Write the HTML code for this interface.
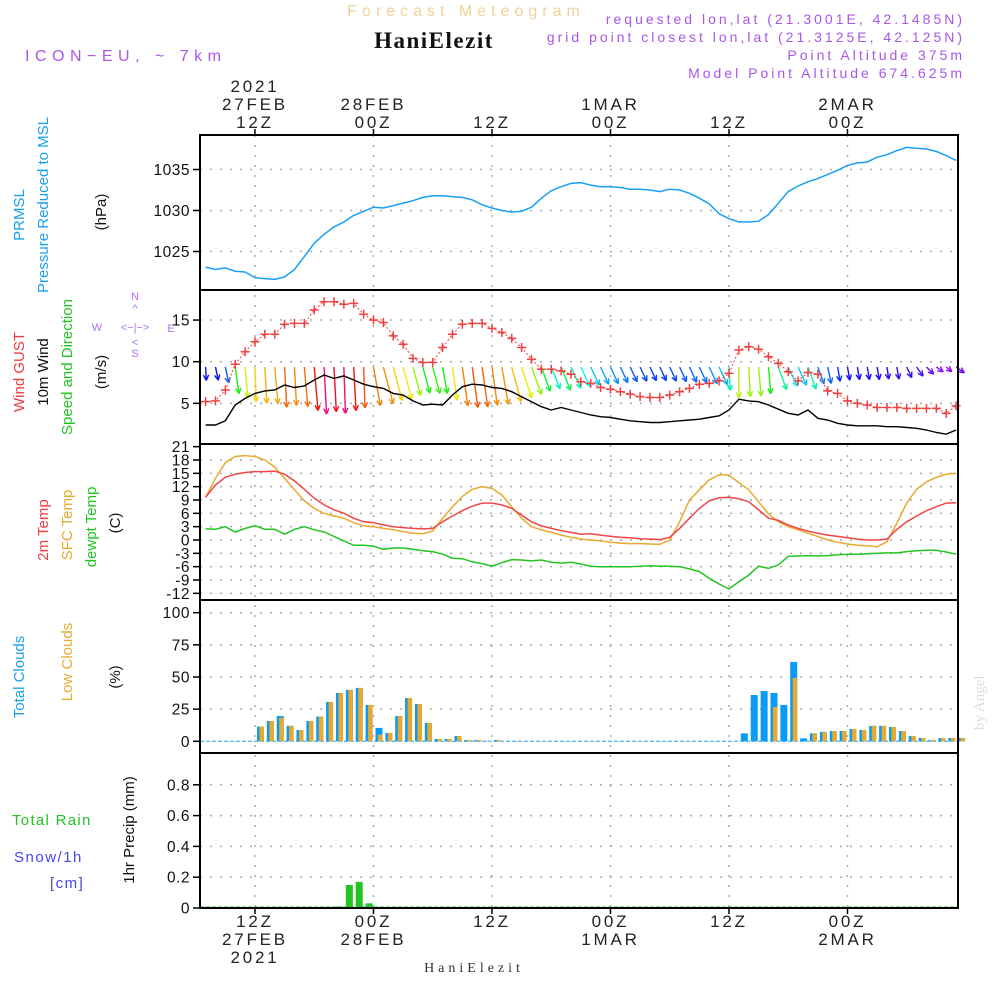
<!DOCTYPE html>
<html><head><meta charset="utf-8"><style>
body{margin:0;background:#fff;width:1000px;height:1000px;overflow:hidden}
svg{display:block}
text{font-family:"Liberation Sans",sans-serif}
</style></head><body>
<svg id="chart" width="1000" height="1000" viewBox="0 0 1000 1000" xmlns="http://www.w3.org/2000/svg">
<text x="466" y="16" text-anchor="middle" font-size="16" fill="#f0d29a" letter-spacing="5">Forecast Meteogram</text>
<text x="434" y="48" text-anchor="middle" font-size="23" font-weight="bold" fill="#111" style="font-family:'Liberation Serif',serif" letter-spacing="1.5">HaniElezit</text>
<g font-size="14" fill="#a855e8" text-anchor="end" letter-spacing="3">
<text x="965" y="24">requested lon,lat (21.3001E, 42.1485N)</text>
<text x="965" y="42">grid point closest lon,lat (21.3125E, 42.125N)</text>
<text x="965" y="60">Point Altitude 375m</text>
<text x="965" y="78">Model Point Altitude 674.625m</text>
</g>
<text x="25" y="61" font-size="16" fill="#a855e8" letter-spacing="5.5">ICON−EU, ~ 7km</text>
<text transform="translate(984,730) rotate(-90)" font-size="15" fill="#ddd" style="font-family:'Liberation Serif',serif">by Angel</text>
<text x="474" y="972" text-anchor="middle" font-size="14" fill="#333" style="font-family:'Liberation Serif',serif" letter-spacing="4">HaniElezit</text>
<g font-size="15">
<text transform="translate(24,215) rotate(-90)" text-anchor="middle" fill="#1a9ff0">PRMSL</text>
<text transform="translate(48,205) rotate(-90)" text-anchor="middle" fill="#1a9ff0">Pressure Reduced to MSL</text>
<text transform="translate(106,212) rotate(-90)" text-anchor="middle" fill="#111">(hPa)</text>
<text transform="translate(24,372) rotate(-90)" text-anchor="middle" fill="#f03c3c">Wind GUST</text>
<text transform="translate(48,372) rotate(-90)" text-anchor="middle" fill="#111">10m Wind</text>
<text transform="translate(72,367) rotate(-90)" text-anchor="middle" fill="#22c422">Speed and Direction</text>
<text transform="translate(106,372) rotate(-90)" text-anchor="middle" fill="#111">(m/s)</text>
<text transform="translate(48,530) rotate(-90)" text-anchor="middle" fill="#f03c3c">2m Temp</text>
<text transform="translate(72,525) rotate(-90)" text-anchor="middle" fill="#e8a92e">SFC Temp</text>
<text transform="translate(96,527) rotate(-90)" text-anchor="middle" fill="#22c422">dewpt Temp</text>
<text transform="translate(120,523) rotate(-90)" text-anchor="middle" fill="#111">(C)</text>
<text transform="translate(24,677) rotate(-90)" text-anchor="middle" fill="#1a9ff0">Total Clouds</text>
<text transform="translate(72,662) rotate(-90)" text-anchor="middle" fill="#e8a92e">Low Clouds</text>
<text transform="translate(120,677) rotate(-90)" text-anchor="middle" fill="#111">(%)</text>
<text x="12" y="825" fill="#22c422" letter-spacing="1.3">Total  Rain</text>
<text x="14" y="862" fill="#4646f0" letter-spacing="1.5">Snow/1h</text>
<text x="50" y="888" fill="#4646f0" letter-spacing="1.5">[cm]</text>
<text transform="translate(134,830) rotate(-90)" text-anchor="middle" fill="#111">1hr Precip (mm)</text>
</g>
<g font-size="11" fill="#b070f0" text-anchor="middle">
<text x="135" y="300">N</text><text x="135" y="312">^</text><text x="135" y="331">&lt;−|−&gt;</text>
<text x="97" y="331">W</text><text x="171" y="332">E</text><text x="135" y="346">&lt;</text><text x="135" y="357">S</text>
</g>
</svg>
<script>
// ---- data (hourly, starting 07Z 27FEB) ----
const pressure=[1023.1,1022.8,1023.0,1022.6,1022.5,1021.8,1021.7,1021.6,1021.9,1022.8,1024.4,1026.0,1027.1,1028.0,1028.6,1029.4,1029.9,1030.4,1030.3,1030.6,1030.9,1031.2,1031.6,1031.8,1031.8,1031.7,1031.6,1031.3,1030.7,1030.3,1030.0,1029.8,1029.9,1030.4,1031.5,1032.4,1032.9,1033.3,1033.4,1033.1,1032.9,1032.9,1032.8,1032.6,1032.6,1032.5,1032.3,1032.6,1032.5,1032.1,1031.5,1030.8,1029.6,1029.0,1028.6,1028.6,1028.7,1029.5,1030.9,1032.3,1033.0,1033.5,1033.9,1034.4,1034.9,1035.5,1035.8,1035.9,1036.5,1036.8,1037.3,1037.7,1037.6,1037.5,1037.2,1036.7,1036.1];
const gust=[5.2,5.3,6.6,9.7,11.2,12.4,13.3,13.3,14.5,14.6,14.6,16.2,17.2,17.2,16.9,17.0,15.7,15.0,14.7,13.1,12.1,10.4,9.9,9.9,11.7,13.3,14.5,14.6,14.6,14.0,13.5,12.8,11.7,10.3,9.1,9.1,8.9,8.5,7.6,7.4,6.9,6.7,6.4,6.1,5.8,5.7,5.7,6.0,6.4,6.8,7.3,7.4,7.7,8.6,11.4,11.8,11.5,10.6,9.8,8.8,7.7,8.7,8.5,6.5,6.2,5.3,5.0,4.8,4.5,4.5,4.5,4.4,4.4,4.4,4.4,3.8,4.7];
const wind=[2.4,2.4,2.9,4.8,5.6,6.2,6.5,6.6,7.2,6.9,7.1,7.8,8.4,8.0,8.3,7.8,7.3,7.0,6.8,6.2,6.0,5.3,4.8,4.9,4.8,6.0,7.0,7.3,7.2,6.9,6.8,6.4,5.8,5.2,4.6,4.2,4.5,4.2,3.9,3.6,3.4,3.3,3.1,2.9,2.8,2.7,2.7,2.8,2.9,3.0,3.1,3.3,3.5,4.2,5.5,5.3,5.2,4.8,4.3,3.8,3.6,4.2,3.2,3.0,2.6,2.4,2.3,2.3,2.3,2.2,2.2,2.1,2.0,1.8,1.5,1.3,1.8];
const windTilt=[3,12,12,8,5,2,3,5,3,3,5,5,3,3,2,3,2,10,15,15,15,15,15,15,10,8,8,8,8,8,10,15,18,20,20,22,22,25,25,25,25,25,25,25,25,25,25,25,25,25,25,25,25,3,0,3,5,5,20,25,25,20,20,12,10,10,10,10,10,8,10,25,35,45,55,50,55];
const t2m=[9.6,12.4,14.1,14.8,15.2,15.4,15.4,15.5,14.8,13.3,11.4,9.4,7.9,6.8,6.0,4.9,4.1,3.9,3.4,3.0,2.8,2.6,2.5,2.6,4.1,5.4,6.6,7.6,8.3,8.3,7.9,7.1,5.6,4.1,3.2,2.6,2.1,1.7,1.3,1.4,1.1,0.8,0.6,0.5,0.3,0.2,0.1,0.6,2.6,4.9,7.1,8.8,9.5,9.6,9.3,8.6,6.8,4.9,4.4,3.4,2.6,2.0,1.5,1.1,0.8,0.5,0.2,0.0,0.0,0.2,2.4,4.1,5.4,6.6,7.5,8.3,8.4];
const tsfc=[9.6,13.9,17.4,18.8,19.0,18.8,18.0,16.4,13.9,11.3,8.8,7.1,6.0,5.4,4.9,3.9,3.2,3.0,2.6,2.3,1.9,1.5,1.4,2.0,4.9,7.5,9.8,11.4,12.0,11.6,10.1,7.5,4.9,3.0,2.3,1.7,1.1,0.6,0.2,0.0,-0.2,-0.5,-0.7,-0.8,-0.8,-0.9,-1.0,0.0,4.1,9.0,11.3,13.5,14.7,14.6,12.9,11.3,8.6,5.9,4.1,3.0,2.3,1.5,0.8,0.0,-0.5,-0.9,-1.2,-1.3,-1.5,-0.4,3.8,8.3,11.4,13.1,14.1,14.8,15.0];
const dewpt=[2.5,2.4,3.0,1.8,2.6,3.2,2.4,2.4,1.3,2.4,3.0,2.3,1.8,0.8,-0.2,-1.2,-1.2,-1.4,-2.1,-1.8,-1.8,-2.1,-2.4,-2.6,-3.2,-4.1,-4.2,-4.9,-5.3,-5.9,-5.1,-4.4,-4.5,-4.7,-4.5,-5.0,-5.2,-5.0,-5.4,-5.9,-6.0,-6.0,-6.0,-6.0,-5.9,-5.8,-5.9,-5.9,-6.0,-6.5,-7.1,-8.6,-9.9,-11.0,-9.4,-7.9,-5.9,-6.4,-5.6,-3.7,-3.6,-3.5,-3.6,-3.5,-3.3,-3.2,-3.2,-3.1,-3.0,-2.9,-2.9,-2.6,-2.4,-2.3,-2.3,-2.7,-3.2];
const totalClouds=[0,0,0,0,0,11.4,15.8,19.7,12.0,8.8,15.8,19.2,30.6,37.6,40.0,41.5,28.3,10.4,6.5,19.7,33.7,29.0,14.3,1.8,1.8,4.1,1.0,1.0,0.3,1.0,0,0.3,0,0,0,0,0,0,0,0,0,0,0,0,0,0,0,0,0,0,0,0,0,0,6.2,36.0,39.1,37.6,28.3,61.7,2.3,6.2,7.3,8.0,8.0,9.6,8.8,12.0,12.0,11.1,8.0,4.1,2.6,1.0,2.6,2.6,2.6];
const lowClouds=[0,0,0,0,0,11.4,15.8,18.4,12.0,8.8,15.8,19.2,30.6,37.6,40.0,41.5,28.3,5.2,6.5,19.7,33.7,29.0,14.3,1.8,1.8,4.1,1.0,1.0,0.3,1.0,0,0.3,0,0,0,0,0,0,0,0,0,0,0,0,0,0,0,0,0,0,0,0,0,0,0,0.3,0,26.7,0,49.2,0,6.2,7.3,8.0,8.0,9.6,8.8,12.0,12.0,11.1,8.0,4.1,2.6,1.0,2.6,2.6,2.6];
const precip=[0,0,0,0,0,0,0,0,0,0,0,0,0,0.01,0.15,0.17,0.03,0,0,0,0,0,0,0,0,0,0,0,0,0,0,0,0,0,0,0,0,0,0,0,0,0,0,0,0,0,0,0,0,0,0,0,0,0,0,0,0,0,0,0,0,0,0,0,0,0,0,0,0,0,0,0,0,0,0,0,0];
const timeTickHours=[5,17,29,41,53,65];
const timeTickTop=[["2021","27FEB","12Z"],["","28FEB","00Z"],["","","12Z"],["","1MAR","00Z"],["","","12Z"],["","2MAR","00Z"]];
const timeTickBottom=[["12Z","27FEB","2021"],["00Z","28FEB",""],["12Z","",""],["00Z","1MAR",""],["12Z","",""],["00Z","2MAR",""]];
const pressTicks=[1025,1030,1035];
const windTicks=[5,10,15];
const tempTicks=[21,18,15,12,9,6,3,0,-3,-6,-9,-12];
const cloudTicks=[0,25,50,75,100];
const precipTicks=[0,0.2,0.4,0.6,0.8];

// ---- axes ----
const X0=200,X1=958;
const xH=h=>205.6+h*9.875;
const yP=p=>210.5-(p-1030)*8.2;
const yW=v=>445-v*8.33;
const yT=t=>540-t*4.444;
const yC=c=>741.3-c*1.286;
const yR=r=>908-r*154;
const panels=[[135,290],[290,444],[444,600],[600,753],[753,908]];

const svg=document.getElementById('chart');
const NS='http://www.w3.org/2000/svg';
function mk(tag,attrs,parent){const e=document.createElementNS(NS,tag);for(const k in attrs)e.setAttribute(k,attrs[k]);(parent||svg).appendChild(e);return e;}
function grp(){return mk('g',{});}

// grid
const grid=grp();


const gs={stroke:'#aaa','stroke-width':1.5,'stroke-dasharray':'2 8'};
timeTickHours.forEach(h=>{const x=xH(h);mk('line',Object.assign({x1:x,x2:x,y1:135,y2:908},gs),grid);});
function hgrid(vals,f){vals.forEach(v=>{const y=f(v);mk('line',Object.assign({x1:X0,x2:X1,y1:y,y2:y},gs),grid);});}
hgrid(pressTicks,yP);hgrid(windTicks,yW);hgrid(tempTicks.filter(t=>t<21),yT);hgrid(cloudTicks.filter(c=>c>0),yC);hgrid(precipTicks.filter(r=>r>0),yR);

// y tick labels
function yticks(vals,f,fmt,name){const g=grp();


vals.forEach(v=>{const y=f(v);mk('line',{x1:X0-7,x2:X0,y1:y,y2:y,stroke:'#000','stroke-width':1.5},g);
const t=mk('text',{x:X0-10,y:y+5.5,'text-anchor':'end','font-size':15.5,fill:'#111','letter-spacing':0.5},g);t.textContent=fmt(v);});}
yticks(pressTicks,yP,v=>v,'pressure-y-ticks');
yticks(windTicks,yW,v=>v,'wind-y-ticks');
yticks(tempTicks,yT,v=>v,'temp-y-ticks');
yticks(cloudTicks,yC,v=>v,'cloud-y-ticks');
yticks(precipTicks,yR,v=>v===0?'0':v.toFixed(1),'precip-y-ticks');

// time labels
const tl=grp();


timeTickHours.forEach((h,i)=>{const x=xH(h);
mk('line',{x1:x,x2:x,y1:129,y2:135,stroke:'#000','stroke-width':1.5},tl);
mk('line',{x1:x,x2:x,y1:908,y2:914,stroke:'#000','stroke-width':1.5},tl);
timeTickTop[i].forEach((s,j)=>{if(!s)return;const t=mk('text',{x:x,y:92+j*18,'text-anchor':'middle','font-size':17,fill:'#222','letter-spacing':2.8},tl);t.textContent=s;});
timeTickBottom[i].forEach((s,j)=>{if(!s)return;const t=mk('text',{x:x,y:927+j*18,'text-anchor':'middle','font-size':17,fill:'#222','letter-spacing':2.8},tl);t.textContent=s;});
});

function line(arr,f,color,name,w,extra){const pts=arr.map((v,h)=>xH(h).toFixed(1)+','+f(v).toFixed(1)).join(' ');
const p=mk('polyline',Object.assign({points:pts,fill:'none',stroke:color,'stroke-width':w||1.5},extra||{}));


return p;}

// pressure
line(pressure,yP,'#18a0f5','pressure-line');

// wind arrows
function hueFor(s){const st=[[1.5,275],[2.5,235],[3.3,205],[4.2,165],[5.2,85],[6,58],[7,30],[7.8,2],[8.4,-30]];
if(s<=st[0][0])return st[0][1];for(let i=1;i<st.length;i++){if(s<=st[i][0]){const a=st[i-1],b=st[i];return a[1]+(b[1]-a[1])*(s-a[0])/(b[0]-a[0]);}}return -30;}
const wa=grp();


wind.forEach((s,h)=>{const x=xH(h),y=367,L=s*5.6,a=windTilt[h]*Math.PI/180;
const tx=x+L*Math.sin(a),ty=y+L*Math.cos(a);const hue=(hueFor(s)+360)%360;const c='hsl('+hue+',90%,50%)';
const g=mk('g',{stroke:c,'stroke-width':1.4,fill:'none'},wa);


mk('line',{x1:x,y1:y,x2:tx,y2:ty},g);
const hl=6,ha=0.45;const bx=-Math.sin(a),by=-Math.cos(a);
[ha,-ha].forEach(d=>{const cx=bx*Math.cos(d)-by*Math.sin(d),cy=bx*Math.sin(d)+by*Math.cos(d);mk('line',{x1:tx,y1:ty,x2:tx+cx*hl,y2:ty+cy*hl},g);});
});

// wind speed & gust
line(wind,yW,'#000','wind-speed-line',1.4);
line(gust,yW,'#f04040','wind-gust-line',1,{'stroke-dasharray':'2 2'});
const gm=grp();


gust.forEach((v,h)=>{const x=xH(h),y=yW(v);
mk('path',{d:`M${x-4.5},${y}H${x+4.5}M${x},${y-4.5}V${y+4.5}`,stroke:'#f04040','stroke-width':1.5},gm);});

// temps
line(tsfc,yT,'#e8a92e','sfc-temp-line');
line(t2m,yT,'#f04545','t2m-line');
line(dewpt,yT,'#22c422','dewpoint-line');

// clouds
const cb=grp();


mk('line',{x1:X0,x2:X1,y1:yC(0),y2:yC(0),stroke:'#18a0f5','stroke-width':1,'stroke-dasharray':'4 2'},cb);
totalClouds.forEach((v,h)=>{if(v<=0)return;const x=xH(h)+2;const r=mk('rect',{x:x,y:yC(v),width:7,height:yC(0)-yC(v),fill:'#0a9bf5'},cb);

});
lowClouds.forEach((v,h)=>{if(v<=0)return;const x=xH(h)+4.5;const r=mk('rect',{x:x,y:yC(v),width:4.5,height:yC(0)-yC(v),fill:'#e8a92e'},cb);

});

// precip
const pb=grp();


mk('line',{x1:X0,x2:X1,y1:907,y2:907,stroke:'#22c422','stroke-width':1,'stroke-dasharray':'4 2'},pb);
precip.forEach((v,h)=>{if(v<=0)return;const x=xH(h)+2;const r=mk('rect',{x:x,y:yR(v),width:7,height:yR(0)-yR(v),fill:'#22c422'},pb);

});

// panel frames
panels.forEach((p,i)=>{const r=mk('rect',{x:X0,y:p[0],width:X1-X0,height:p[1]-p[0],fill:'none',stroke:'#000','stroke-width':2});

});
</script>
</body></html>
